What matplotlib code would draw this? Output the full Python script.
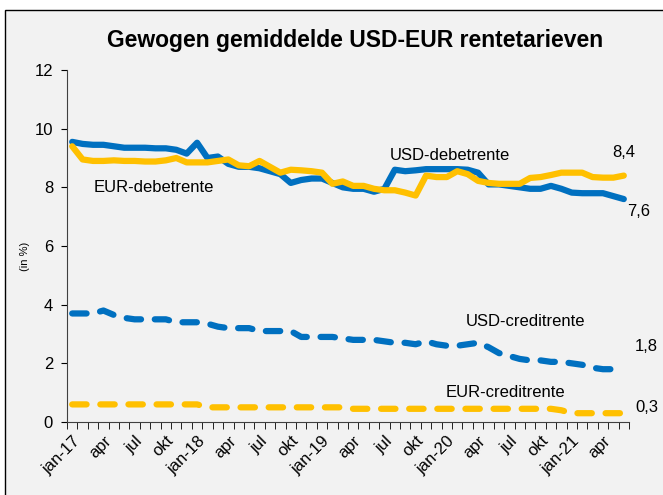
import matplotlib
matplotlib.use("Agg")
import matplotlib.pyplot as plt
from matplotlib.patches import Rectangle

plt.rcParams['font.family'] = ['Liberation Sans', 'DejaVu Sans']

# maandelijkse reeksen jan-17 t/m jun-21
months = ["jan", "feb", "mrt", "apr", "mei", "jun", "jul", "aug", "sep", "okt", "nov", "dec"]
years = ["17", "18", "19", "20", "21"]
n_months = 54

usd_debet = [9.55, 9.48, 9.45, 9.45, 9.4, 9.35, 9.35, 9.35, 9.33, 9.33,
             9.28, 9.15, 9.52, 9.0, 9.05, 8.8, 8.7, 8.7, 8.65, 8.55,
             8.45, 8.15, 8.25, 8.3, 8.3, 8.15, 8.0, 7.95, 7.95, 7.85,
             7.95, 8.6, 8.55, 8.58, 8.62, 8.62, 8.62, 8.62, 8.6, 8.5,
             8.1, 8.1, 8.05, 8.0, 7.95, 7.95, 8.05, 7.95, 7.82, 7.8,
             7.8, 7.8, 7.7, 7.6]
eur_debet = [9.4, 8.95, 8.9, 8.9, 8.92, 8.9, 8.9, 8.88, 8.88, 8.92,
             9.0, 8.85, 8.85, 8.85, 8.9, 8.95, 8.75, 8.72, 8.9, 8.7,
             8.5, 8.6, 8.58, 8.55, 8.5, 8.12, 8.2, 8.05, 8.05, 7.95,
             7.9, 7.9, 7.82, 7.72, 8.4, 8.35, 8.35, 8.55, 8.45, 8.22,
             8.15, 8.12, 8.12, 8.12, 8.32, 8.35, 8.42, 8.5, 8.5, 8.5,
             8.35, 8.33, 8.33, 8.4]
usd_credit = [3.7, 3.7, 3.7, 3.8, 3.65, 3.55, 3.5, 3.5, 3.5, 3.5,
              3.4, 3.4, 3.4, 3.35, 3.25, 3.2, 3.2, 3.2, 3.1, 3.1,
              3.1, 3.1, 2.9, 2.9, 2.9, 2.9, 2.85, 2.8, 2.8, 2.8,
              2.75, 2.7, 2.7, 2.65, 2.75, 2.65, 2.6, 2.6, 2.65, 2.7,
              2.55, 2.35, 2.25, 2.15, 2.1, 2.1, 2.05, 2.05, 2.0, 1.95,
              1.85, 1.8, 1.8, 1.8]
eur_credit = [0.6] * 13 + [0.5] * 14 + [0.45] * 20 + [0.4, 0.3, 0.3, 0.3, 0.3, 0.3, 0.3]

tick_labels = []
for i in range(0, n_months, 3):
    m = months[i % 12]
    if m == "jan":
        tick_labels.append("jan-" + years[i // 12])
    else:
        tick_labels.append(m)

blue = "#0070C0"
yellow = "#FFC000"

fig = plt.figure(figsize=(6.63, 4.95), dpi=100)
fig.patch.set_facecolor("white")
fig.patches.append(Rectangle((5 / 663, -0.1), 1.2, 1 - 10 / 495 + 0.1,
                             transform=fig.transFigure, facecolor="#f2f2f2",
                             edgecolor="black", linewidth=1.0, zorder=-10))

ax = fig.add_axes([67 / 663, 1 - 422 / 495, (629 - 67) / 663, (422 - 70) / 495])
ax.set_facecolor("none")

x = list(range(n_months))
lw = 4.5
ax.plot(x, usd_debet, color=blue, lw=lw, solid_joinstyle="round", solid_capstyle="round")
ax.plot(x, eur_debet, color=yellow, lw=lw, solid_joinstyle="round", solid_capstyle="round")
ax.plot(x, usd_credit, color=blue, lw=lw, ls=(0, (2.3, 2.2)), dash_capstyle="round")
ax.plot(x, eur_credit, color=yellow, lw=lw, ls=(0, (2.3, 2.2)), dash_capstyle="round")

ax.set_xlim(-0.5, n_months - 0.5)
ax.set_ylim(0, 12)
ax.set_yticks(range(0, 13, 2))
ax.tick_params(axis="y", direction="out", length=4, labelsize=12, pad=6)

ax.set_xticks(range(0, n_months, 3))
ax.set_xticklabels(tick_labels, rotation=45, ha="right", rotation_mode="anchor", fontsize=12)
ax.tick_params(axis="x", which="major", length=0, pad=8)
ax.set_xticks([i - 0.5 for i in range(n_months + 1)], minor=True)
ax.tick_params(axis="x", which="minor", direction="out", length=5)

for s in ["top", "right"]:
    ax.spines[s].set_visible(False)
for s in ["left", "bottom"]:
    ax.spines[s].set_color("#404040")

ax.set_ylabel("(in %)", fontsize=8)
ax.yaxis.set_label_coords(-0.065, 0.47)

lab = dict(fontsize=12, color="black", va="center", ha="left", clip_on=False)
ax.text(2.1, 8.0, "EUR-debetrente", **lab)
ax.text(30.5, 9.08, "USD-debetrente", **lab)
ax.text(37.8, 3.41, "USD-creditrente", **lab)
ax.text(35.9, 1.02, "EUR-creditrente", **lab)
ax.text(51.9, 9.2, "8,4", **lab)
ax.text(53.3, 7.17, "7,6", **lab)
ax.text(54.1, 2.56, "1,8", **lab)
ax.text(54.1, 0.48, "0,3", **lab)

fig.text(355 / 663, 1 - 40 / 495, "Gewogen gemiddelde USD-EUR rentetarieven",
         ha="center", va="center", fontsize=16.5, fontweight="bold")

fig.savefig("out.png", dpi=100)
